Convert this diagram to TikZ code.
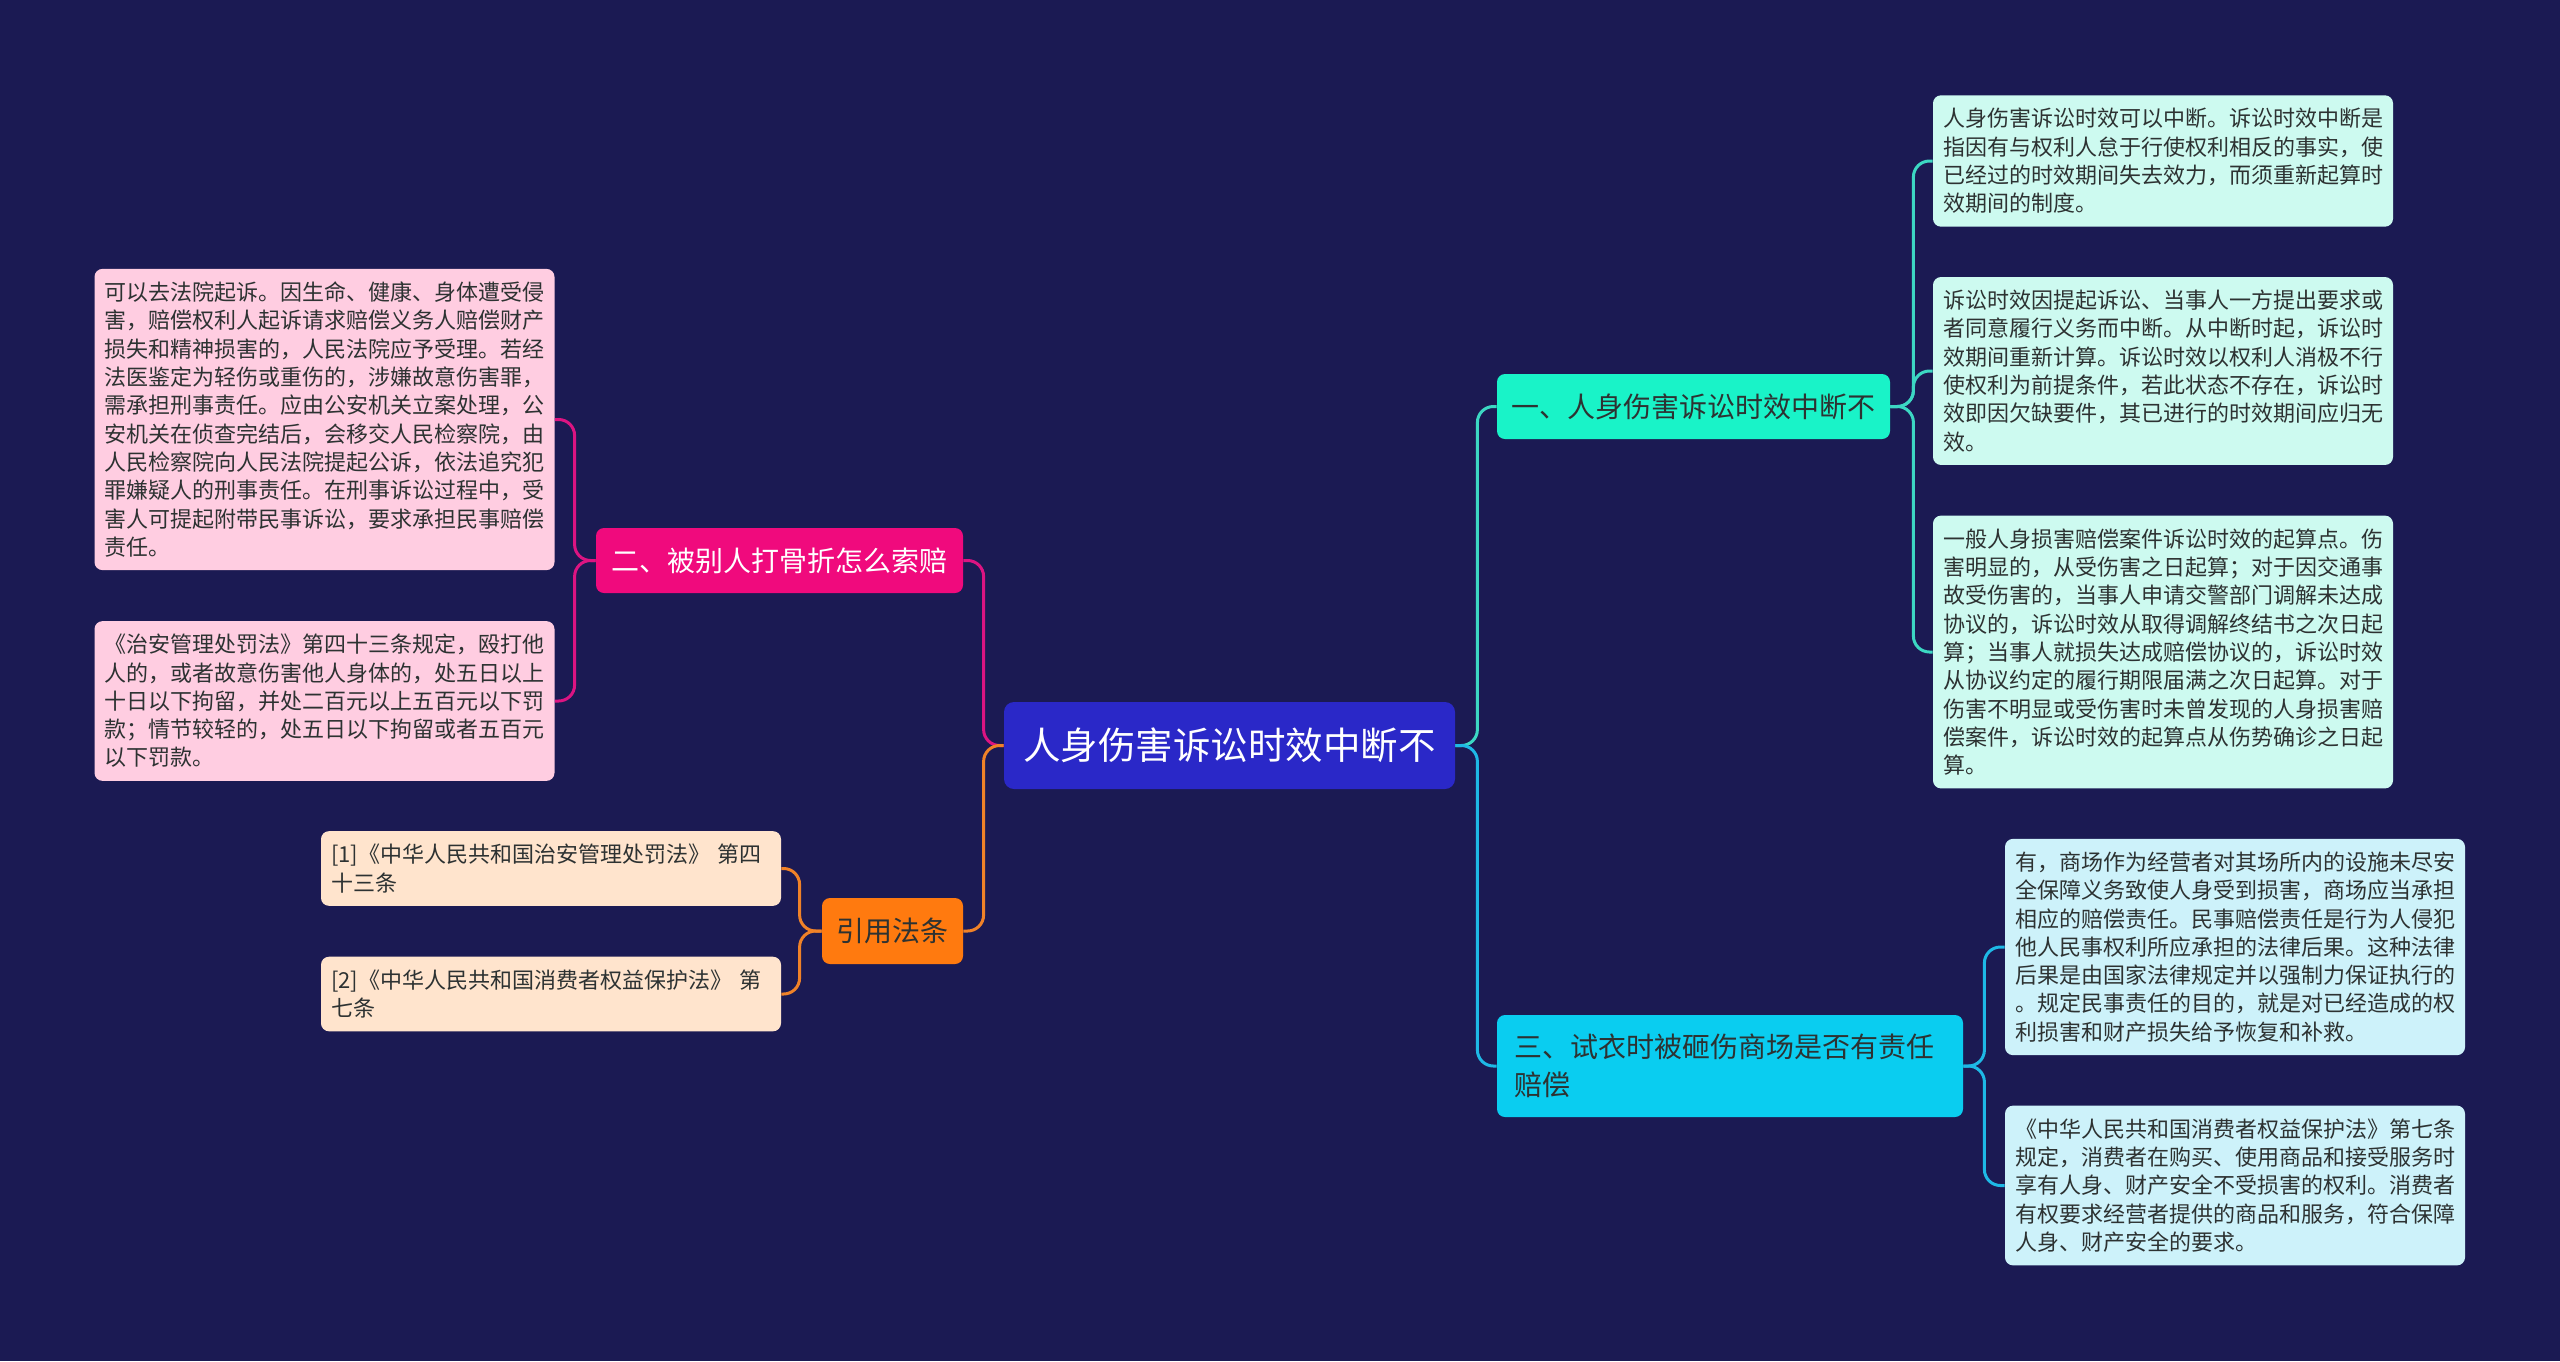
\documentclass[tikz,border=0pt]{standalone}
\usepackage{fontspec}
\newfontfamily\cjk{Noto Sans CJK SC}
\definecolor{bgnavy}{RGB}{27,26,83}
\definecolor{rootblue}{RGB}{42,40,200}
\definecolor{tealfill}{RGB}{25,243,200}
\definecolor{cyanfill}{RGB}{10,205,240}
\definecolor{pinkfill}{RGB}{240,10,125}
\definecolor{orangefill}{RGB}{255,122,15}
\definecolor{mintleaf}{RGB}{205,250,240}
\definecolor{skyleaf}{RGB}{205,242,250}
\definecolor{pinkleaf}{RGB}{255,205,225}
\definecolor{peachleaf}{RGB}{255,228,205}
\definecolor{tealline}{RGB}{60,215,195}
\definecolor{cyanline}{RGB}{30,185,230}
\definecolor{pinkline}{RGB}{220,20,130}
\definecolor{orangeline}{RGB}{240,130,40}
\definecolor{darktext}{RGB}{45,50,50}

\begin{document}
\begin{tikzpicture}[x=0.5pt,y=-0.5pt,
	zhuti/.style = {fill=rootblue,rounded corners=5pt,text=white,font=\cjk\fontsize{18.75}{22}\selectfont,minimum width=225.5pt,minimum height=43.5pt,inner sep=0pt},
	rama/.style = {rounded corners=4pt,font=\cjk\fontsize{14}{19}\selectfont,minimum height=32.5pt,inner xsep=0pt},
	hoja/.style = {rounded corners=4pt,align=left,text width=220pt,inner xsep=5pt,inner ysep=6.5pt,font=\cjk\fontsize{11}{14.15}\selectfont,text=darktext},
	enlace/.style = {line width=1.5pt,rounded corners=8pt},]
		\fill[bgnavy] (0,0) rectangle (2560,1361);
		\useasboundingbox (0,0) rectangle (2560,1361);

		\node[zhuti] (root) at (1229.5,745.5) {人身伤害诉讼时效中断不};

		\node[rama,fill=tealfill,text=darktext,minimum width=196.5pt] (b1) at (1693.5,406.5) {一、人身伤害诉讼时效中断不};
		\node[rama,fill=cyanfill,text=darktext,align=left,text width=216pt,inner xsep=8.5pt,minimum height=51pt] (b3) at (1730,1066) {三、试衣时被砸伤商场是否有责任\\赔偿};
		\node[rama,fill=pinkfill,text=white,minimum width=183.5pt] (b2) at (779.5,560.5) {二、被别人打骨折怎么索赔};
		\node[rama,fill=orangefill,text=darktext,minimum width=70.5pt,minimum height=33pt] (cite) at (892.5,931) {引用法条};

		\node[hoja,fill=mintleaf] (r1) at (2163,161) {人身伤害诉讼时效可以中断。诉讼时效中断是\\指因有与权利人怠于行使权利相反的事实，使\\已经过的时效期间失去效力，而须重新起算时\\效期间的制度。};
		\node[hoja,fill=mintleaf] (r2) at (2163,371) {诉讼时效因提起诉讼、当事人一方提出要求或\\者同意履行义务而中断。从中断时起，诉讼时\\效期间重新计算。诉讼时效以权利人消极不行\\使权利为前提条件，若此状态不存在，诉讼时\\效即因欠缺要件，其已进行的时效期间应归无\\效。};
		\node[hoja,fill=mintleaf] (r3) at (2163,652) {一般人身损害赔偿案件诉讼时效的起算点。伤\\害明显的，从受伤害之日起算；对于因交通事\\故受伤害的，当事人申请交警部门调解未达成\\协议的，诉讼时效从取得调解终结书之次日起\\算；当事人就损失达成赔偿协议的，诉讼时效\\从协议约定的履行期限届满之次日起算。对于\\伤害不明显或受伤害时未曾发现的人身损害赔\\偿案件，诉讼时效的起算点从伤势确诊之日起\\算。};
		\node[hoja,fill=skyleaf] (r4) at (2235,947) {有，商场作为经营者对其场所内的设施未尽安\\全保障义务致使人身受到损害，商场应当承担\\相应的赔偿责任。民事赔偿责任是行为人侵犯\\他人民事权利所应承担的法律后果。这种法律\\后果是由国家法律规定并以强制力保证执行的\\。规定民事责任的目的，就是对已经造成的权\\利损害和财产损失给予恢复和补救。};
		\node[hoja,fill=skyleaf] (r5) at (2235,1185.5) {《中华人民共和国消费者权益保护法》第七条\\规定，消费者在购买、使用商品和接受服务时\\享有人身、财产安全不受损害的权利。消费者\\有权要求经营者提供的商品和服务，符合保障\\人身、财产安全的要求。};

		\node[hoja,fill=pinkleaf] (l1) at (324.5,419.5) {可以去法院起诉。因生命、健康、身体遭受侵\\害，赔偿权利人起诉请求赔偿义务人赔偿财产\\损失和精神损害的，人民法院应予受理。若经\\法医鉴定为轻伤或重伤的，涉嫌故意伤害罪，\\需承担刑事责任。应由公安机关立案处理，公\\安机关在侦查完结后，会移交人民检察院，由\\人民检察院向人民法院提起公诉，依法追究犯\\罪嫌疑人的刑事责任。在刑事诉讼过程中，受\\害人可提起附带民事诉讼，要求承担民事赔偿\\责任。};
		\node[hoja,fill=pinkleaf] (l2) at (324.5,701) {《治安管理处罚法》第四十三条规定，殴打他\\人的，或者故意伤害他人身体的，处五日以上\\十日以下拘留，并处二百元以上五百元以下罚\\款；情节较轻的，处五日以下拘留或者五百元\\以下罚款。};
		\node[hoja,fill=peachleaf] (l3) at (551,868.5) {[1]《中华人民共和国治安管理处罚法》 第四\\十三条};
		\node[hoja,fill=peachleaf] (l4) at (551,994) {[2]《中华人民共和国消费者权益保护法》 第\\七条};

		% ramas
		\draw[enlace,tealline] (root.east) -- ++(22,0) |- (b1.west);
		\draw[enlace,cyanline] (root.east) -- ++(22,0) |- (b3.west);
		\draw[enlace,pinkline] (root.west) -- ++(-20,0) |- (b2.east);
		\draw[enlace,orangeline] (root.west) -- ++(-20,0) |- (cite.east);

		% hojas
		\draw[enlace,tealline] (b1.east) -- ++(23,0) |- (r1.west);
		\draw[enlace,tealline] (b1.east) -- ++(23,0) |- (r2.west);
		\draw[enlace,tealline] (b1.east) -- ++(23,0) |- (r3.west);
		\draw[enlace,cyanline] (b3.east) -- ++(21,0) |- (r4.west);
		\draw[enlace,cyanline] (b3.east) -- ++(21,0) |- (r5.west);
		\draw[enlace,pinkline] (b2.west) -- ++(-21,0) |- (l1.east);
		\draw[enlace,pinkline] (b2.west) -- ++(-21,0) |- (l2.east);
		\draw[enlace,orangeline] (cite.west) -- ++(-22,0) |- (l3.east);
		\draw[enlace,orangeline] (cite.west) -- ++(-22,0) |- (l4.east);
	\end{tikzpicture}
\end{document}
